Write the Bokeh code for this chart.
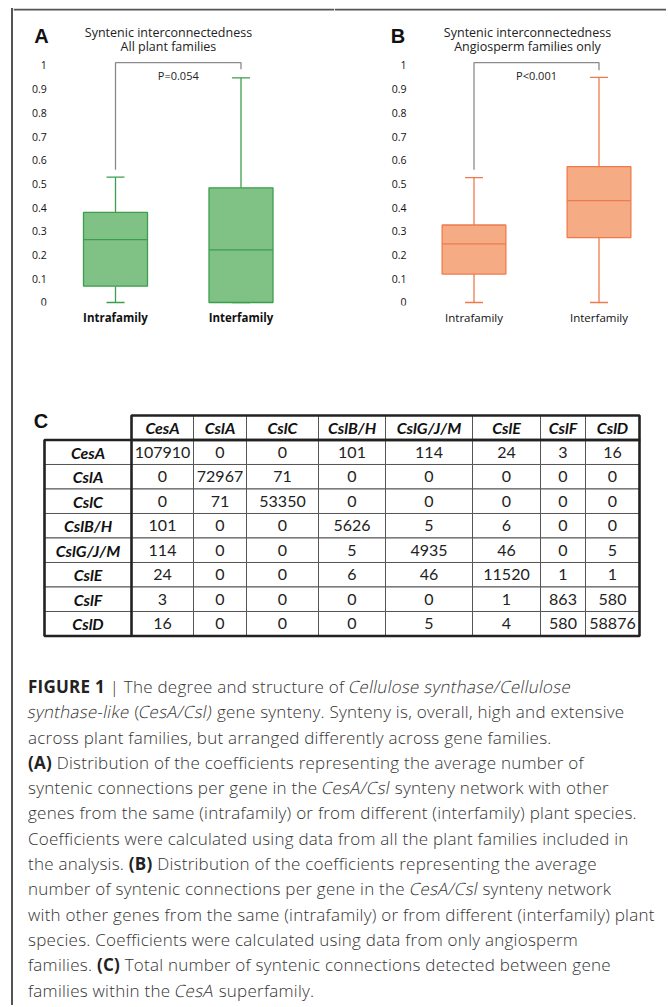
import numpy as np
from bokeh.plotting import figure
from bokeh.layouts import column, row
from bokeh.models import Range1d, FixedTicker, Label, ColumnDataSource, Div, BoxAnnotation
from bokeh.transform import dodge
from bokeh.core.properties import value
from bokeh.embed import file_html
from bokeh.resources import INLINE

# ---------------- data ----------------
categories = ["Intrafamily", "Interfamily"]
y_ticks = [0, 0.1, 0.2, 0.3, 0.4, 0.5, 0.6, 0.7, 0.8, 0.9, 1]
y_tick_labels = ["0", "0.1", "0.2", "0.3", "0.4", "0.5", "0.6", "0.7", "0.8", "0.9", "1"]

# Panel A: all plant families
a_low = [0.0, 0.0]
a_q1 = [0.069, 0.0]
a_med = [0.265, 0.222]
a_q3 = [0.38, 0.484]
a_high = [0.529, 0.948]
a_bracket = [0.56, 1.012, 1.012, 0.984]
a_pvalue = "P=0.054"

# Panel B: angiosperm families only
b_low = [0.0, 0.0]
b_q1 = [0.12, 0.274]
b_med = [0.247, 0.43]
b_q3 = [0.327, 0.573]
b_high = [0.527, 0.95]
b_bracket = [0.56, 1.012, 1.012, 0.98]
b_pvalue = "P<0.001"

# Panel C: syntenic connections between gene families
genes = ["CesA", "CslA", "CslC", "CslB/H", "CslG/J/M", "CslE", "CslF", "CslD"]
row_CesA = [107910, 0, 0, 101, 114, 24, 3, 16]
row_CslA = [0, 72967, 71, 0, 0, 0, 0, 0]
row_CslC = [0, 71, 53350, 0, 0, 0, 0, 0]
row_CslBH = [101, 0, 0, 5626, 5, 6, 0, 0]
row_CslGJM = [114, 0, 0, 5, 4935, 46, 0, 5]
row_CslE = [24, 0, 0, 6, 46, 11520, 1, 1]
row_CslF = [3, 0, 0, 0, 0, 1, 863, 580]
row_CslD = [16, 0, 0, 0, 5, 4, 580, 58876]
table_rows = [row_CesA, row_CslA, row_CslC, row_CslBH, row_CslGJM, row_CslE, row_CslF, row_CslD]

# ---------------- styles ----------------
FONT = "Open Sans"
GREEN_FILL, GREEN_LINE = "#80c286", "#3c9e4c"
ORANGE_FILL, ORANGE_LINE = "#f5ab84", "#f07a4c"
FRAME_COLOR = "#555555"
BOX_WIDTH = 0.51
Y_TOP = 1.2405      # value at the top edge of the panel
Y_RULE = 1.232      # bottom of the 2px rule along the top of the figure


def box_panel(letter, letter_x, title_x, title1, title2, low, q1, med, q3, high, bracket, ptext,
              fill, stroke, cat_style, width, x_start, x_end, standoff):
    p = figure(width=width, height=332, x_range=Range1d(x_start, x_end),
               y_range=Range1d(-0.01266, Y_TOP), output_backend="svg",
               toolbar_location=None, min_border_left=0, min_border_right=0,
               min_border_top=0, min_border_bottom=35)
    p.outline_line_color = None
    p.grid.visible = False
    # top rule of the whole figure
    p.add_layout(BoxAnnotation(bottom=Y_RULE, fill_color=FRAME_COLOR, fill_alpha=1.0,
                               line_color=None))
    xs = [i + 0.5 for i in range(len(categories))]
    src = ColumnDataSource(dict(x=xs, low=low, q1=q1, med=med, q3=q3, high=high))
    lw = 1.3
    p.segment(x0="x", y0="q3", x1="x", y1="high", source=src, line_color=stroke, line_width=lw)
    p.segment(x0="x", y0="low", x1="x", y1="q1", source=src, line_color=stroke, line_width=lw)
    p.scatter(x="x", y="high", marker="dash", size=18, source=src, line_color=stroke, line_width=lw)
    p.scatter(x="x", y="low", marker="dash", size=18, source=src, line_color=stroke, line_width=lw)
    p.vbar(x="x", width=BOX_WIDTH, bottom="q1", top="q3", source=src,
           fill_color=fill, line_color=stroke, line_width=lw)
    p.segment(x0=dodge("x", -BOX_WIDTH / 2), x1=dodge("x", BOX_WIDTH / 2), y0="med", y1="med",
              source=src, line_color=stroke, line_width=lw)
    # significance bracket
    p.line(x=[xs[0], xs[0], xs[1], xs[1]], y=bracket, line_color="#8a8a8a", line_width=1.3)
    mid = (xs[0] + xs[1]) / 2
    p.add_layout(Label(x=mid, y=0.958, text=ptext, text_align="center", text_baseline="middle",
                       text_font=FONT, text_font_size="11px", text_color="#222"))
    # titles
    p.add_layout(Label(x=title_x, y=1.139, text=title1, text_align="center", text_baseline="middle",
                       text_font=FONT, text_font_size="12.5px", text_color="#222"))
    p.add_layout(Label(x=title_x, y=1.080, text=title2, text_align="center", text_baseline="middle",
                       text_font=FONT, text_font_size="12.5px", text_color="#222"))
    p.add_layout(Label(x=letter_x, y=1.1245, text=letter, text_align="center", text_baseline="middle",
                       text_font="Liberation Sans", text_font_style="bold",
                       text_font_size="20px", text_color="#111"))
    # axes
    p.xaxis.ticker = FixedTicker(ticks=xs)
    p.xaxis.major_label_overrides = {x: c for x, c in zip(xs, categories)}
    p.yaxis.ticker = FixedTicker(ticks=y_ticks)
    p.yaxis.major_label_overrides = {t: l for t, l in zip(y_ticks, y_tick_labels)}
    p.yaxis.fixed_location = 0
    for ax in (p.xaxis, p.yaxis):
        ax.axis_line_color = None
        ax.major_tick_line_color = None
        ax.minor_tick_line_color = None
        ax.major_tick_out = 0
        ax.major_tick_in = 0
        ax.major_label_text_font = FONT
        ax.major_label_text_color = "#111"
    p.yaxis.major_label_text_font_size = "10.5px"
    p.yaxis.major_label_standoff = standoff
    p.xaxis.major_label_text_font_size = "11.5px"
    p.xaxis.major_label_text_font_style = cat_style
    p.xaxis.major_label_standoff = 4
    return p


pA = box_panel("A", -0.0896, 0.922, "Syntenic interconnectedness", "All plant families",
               a_low, a_q1, a_med, a_q3, a_high, a_bracket, a_pvalue,
               GREEN_FILL, GREEN_LINE, "bold", 321, -0.3127, 2.245, 6)
pB = box_panel("B", -0.108, 0.928, "Syntenic interconnectedness", "Angiosperm families only",
               b_low, b_q1, b_med, b_q3, b_high, b_bracket, b_pvalue,
               ORANGE_FILL, ORANGE_LINE, "normal", 332, -0.616, 2.04, 5)

# ---------------- table (panel C) ----------------
col_widths = [87, 62, 53, 72, 67, 87, 68, 45, 54]  # px, label column + 8 gene columns
edges = np.cumsum([0] + col_widths).tolist()
pC = figure(width=647, height=310, x_range=Range1d(-31, 616), y_range=Range1d(9.592, -3.061),
            output_backend="svg", toolbar_location=None, min_border=0,
            x_axis_location=None, y_axis_location=None)
pC.outline_line_color = None
pC.grid.visible = False

cell = dict(left=[], right=[], top=[], bottom=[], xc=[], yc=[], text=[])
label = dict(xc=[], yc=[], text=[])
for c, g in enumerate(genes):  # header row
    l, r = edges[c + 1], edges[c + 2]
    cell["left"].append(l); cell["right"].append(r); cell["top"].append(0); cell["bottom"].append(1)
    cell["xc"].append((l + r) / 2); cell["yc"].append(0.5); cell["text"].append("")
    label["xc"].append((l + r) / 2); label["yc"].append(0.5); label["text"].append(g)
for ri, (g, vals) in enumerate(zip(genes, table_rows)):
    yrow = ri + 1
    l, r = edges[0], edges[1]
    cell["left"].append(l); cell["right"].append(r); cell["top"].append(yrow); cell["bottom"].append(yrow + 1)
    cell["xc"].append((l + r) / 2); cell["yc"].append(yrow + 0.5); cell["text"].append("")
    label["xc"].append((l + r) / 2); label["yc"].append(yrow + 0.5); label["text"].append(g)
    for c, v in enumerate(vals):
        l, r = edges[c + 1], edges[c + 2]
        cell["left"].append(l); cell["right"].append(r); cell["top"].append(yrow); cell["bottom"].append(yrow + 1)
        cell["xc"].append((l + r) / 2); cell["yc"].append(yrow + 0.5); cell["text"].append(str(v))

csrc = ColumnDataSource(cell)
lsrc = ColumnDataSource(label)
pC.quad(left="left", right="right", top="top", bottom="bottom", source=csrc,
        fill_color="white", line_color="#555555", line_width=1)
n = len(genes)
pC.quad(left=[edges[0]], right=[edges[-1]], top=[1], bottom=[n + 1], fill_color=None,
        line_color="#222222", line_width=2.6)
pC.quad(left=[edges[1]], right=[edges[-1]], top=[0], bottom=[1], fill_color=None,
        line_color="#222222", line_width=2.6)
pC.segment(x0=[edges[1]], x1=[edges[1]], y0=[1], y1=[n + 1], line_color="#222222", line_width=2.6)
pC.text(x="xc", y="yc", text="text", source=csrc, text_align="center", text_baseline="middle",
        text_font=value("Lato"), text_font_size="16px", text_color="#222")
pC.text(x="xc", y="yc", text="text", source=lsrc, text_align="center", text_baseline="middle",
        text_font=value("Lato"), text_font_size="16px", text_font_style="bold italic",
        text_color="#111")
pC.add_layout(Label(x=-3.5, y=0.22, text="C", text_align="center", text_baseline="middle",
                    text_font="Liberation Sans", text_font_style="bold",
                    text_font_size="20px", text_color="#111"))

# ---------------- caption ----------------
def it(s):
    return '<span style="display:inline-block;transform:skewX(-11deg)">' + s + '</span>'


def bd(s):
    return '<b style="font-weight:700;color:#222">' + s + '</b>'


caption_lines = [
    bd("FIGURE 1") + " | The degree and structure of " + it("Cellulose synthase/Cellulose"),
    it("synthase-like") + " (" + it("CesA/Csl)") + " gene synteny. Synteny is, overall, high and extensive",
    "across plant families, but arranged differently across gene families.",
    bd("(A)") + " Distribution of the coefficients representing the average number of",
    "syntenic connections per gene in the " + it("CesA/Csl") + " synteny network with other",
    "genes from the same (intrafamily) or from different (interfamily) plant species.",
    "Coefficients were calculated using data from all the plant families included in",
    "the analysis. " + bd("(B)") + " Distribution of the coefficients representing the average",
    "number of syntenic connections per gene in the " + it("CesA/Csl") + " synteny network",
    "with other genes from the same (intrafamily) or from different (interfamily) plant",
    "species. Coefficients were calculated using data from only angiosperm",
    "families. " + bd("(C)") + " Total number of syntenic connections detected between gene",
    "families within the " + it("CesA") + " superfamily.",
]
cap_html = ('<div style="font-family: \'Open Sans\'; font-size: 17px; font-weight: 300; '
            'letter-spacing: 0.25px; line-height: 25.3px; color: #333; white-space: nowrap; '
            'padding-left: 15px; padding-top: 24px;">'
            + "<br>".join(caption_lines) + "</div>")
cap = Div(text=cap_html, width=653, height=350, margin=0)

# left rule of the whole figure
left_bar = Div(text='<div style="width:2px;height:997px;background:#555555;"></div>',
               width=2, height=997, margin=0)

layout = row(left_bar, column(row(pA, pB), pC, cap), margin=(8, 0, 0, 11))

open("out.html", "w").write(file_html(layout, INLINE))
